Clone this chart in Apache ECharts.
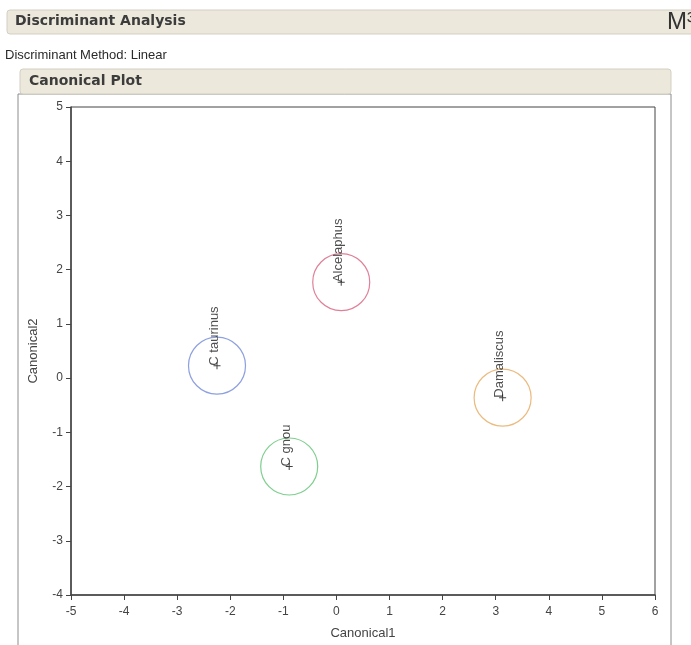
<!DOCTYPE html>
<html>
<head>
<meta charset="utf-8">
<script src="https://cdn.jsdelivr.net/npm/echarts@6/dist/echarts.min.js"></script>
<style>
  html, body { margin: 0; padding: 0; background: #fff; }
  #chart { width: 691px; height: 645px; }
</style>
</head>
<body>
<div id="chart"></div>
<script>
// group means on the two canonical axes
var groups = ['Alcelaphus', 'C taurinus', 'C gnou', 'Damaliscus'];
var canonical1 = [0.09, -2.25, -0.89, 3.13];
var canonical2 = [1.77, 0.23, -1.63, -0.36];
var groupColors = ['#d8607e', '#7088d8', '#5ec272', '#e6a95e'];

var xRange = [-5, 6];
var yRange = [-4, 5];

var labelFont = 'Liberation Sans, Arial, sans-serif';
var headFont = 'DejaVu Sans, Verdana, sans-serif';

function buildCircles() {
  var out = [];
  groups.forEach(function (g, i) {
    out.push({
      name: g,
      value: [canonical1[i], canonical2[i]],
      itemStyle: { borderColor: groupColors[i] }
    });
  });
  return out;
}

function buildMeans() {
  var out = [];
  groups.forEach(function (g, i) {
    out.push({ name: g, value: [canonical1[i], canonical2[i]] });
  });
  return out;
}

function RenderCanonicalPlot() {
  var dom = document.getElementById('chart');
  var myChart = echarts.init(dom, null, { renderer: 'canvas' });
  var option;

  option = {
    animation: false,
    backgroundColor: '#ffffff',
    graphic: [
      // top report header
      { type: 'rect', z: -10, shape: { x: 7, y: 10, width: 700, height: 24, r: 3 },
        style: { fill: '#ece9dc', stroke: '#d2cfc2', lineWidth: 1 } },
      { type: 'text', z: -9, left: 15, top: 14,
        style: { text: 'Discriminant Analysis', font: 'bold 14px ' + headFont, fill: '#3c3c3c' } },
      { type: 'text', z: -9, left: 667, top: 10,
        style: { text: 'M³', font: '24px ' + labelFont, fill: '#333' } },
      { type: 'text', z: -9, left: 5, top: 49,
        style: { text: 'Discriminant Method: Linear', font: '13px ' + labelFont, fill: '#2a2a2a' } },
      // canonical plot outline box
      { type: 'rect', z: -10, shape: { x: 18, y: 94, width: 653, height: 600 },
        style: { fill: '#ffffff', stroke: '#8c8c8c', lineWidth: 1 } },
      { type: 'rect', z: -9, shape: { x: 20, y: 69, width: 651, height: 25, r: 3 },
        style: { fill: '#ece9dc', stroke: '#d2cfc2', lineWidth: 1 } },
      { type: 'text', z: -8, left: 29, top: 74,
        style: { text: 'Canonical Plot', font: 'bold 14px ' + headFont, fill: '#3c3c3c' } }
    ],
    grid: {
      left: 71,
      right: 36,
      top: 107,
      bottom: 49,
      show: true,
      borderColor: '#444',
      borderWidth: 1,
      backgroundColor: 'transparent'
    },
    xAxis: {
      type: 'value',
      min: xRange[0],
      max: xRange[1],
      interval: 1,
      name: 'Canonical1',
      nameLocation: 'middle',
      nameGap: 32,
      nameTextStyle: { fontFamily: labelFont, fontSize: 13, color: '#444' },
      splitLine: { show: false },
      axisLine: { onZero: false, lineStyle: { color: '#444', width: 1.5 } },
      axisTick: { show: true, length: 5, lineStyle: { color: '#444' } },
      axisLabel: { margin: 11, fontFamily: labelFont, fontSize: 12, color: '#444' }
    },
    yAxis: {
      type: 'value',
      min: yRange[0],
      max: yRange[1],
      interval: 1,
      name: 'Canonical2',
      nameLocation: 'middle',
      nameRotate: 90,
      nameGap: 31,
      nameTextStyle: { fontFamily: labelFont, fontSize: 13, color: '#444' },
      splitLine: { show: false },
      axisLine: { show: true, onZero: false, lineStyle: { color: '#444', width: 1.5 } },
      axisTick: { show: true, length: 5, lineStyle: { color: '#444' } },
      axisLabel: { margin: 8, fontFamily: labelFont, fontSize: 12, color: '#444' }
    },
    series: [
      {
        name: 'circles',
        type: 'scatter',
        symbol: 'circle',
        symbolSize: 57,
        silent: true,
        itemStyle: { color: 'rgba(0,0,0,0)', borderWidth: 1.2 },
        data: buildCircles()
      },
      {
        name: 'means',
        type: 'scatter',
        symbol: 'path://M3,0h1v7h-1zM0,3h7v1h-7z',
        symbolSize: 7,
        itemStyle: { color: '#111' },
        label: {
          show: true,
          formatter: '{b}',
          position: ['100%', '50%'],
          rotate: 90,
          align: 'left',
          verticalAlign: 'bottom',
          fontFamily: labelFont,
          fontSize: 13,
          color: '#222'
        },
        data: buildMeans()
      }
    ]
  };

  if (option && typeof option === 'object') {
    myChart.setOption(option);
  }
}

window.onload = RenderCanonicalPlot;
</script>
</body>
</html>
